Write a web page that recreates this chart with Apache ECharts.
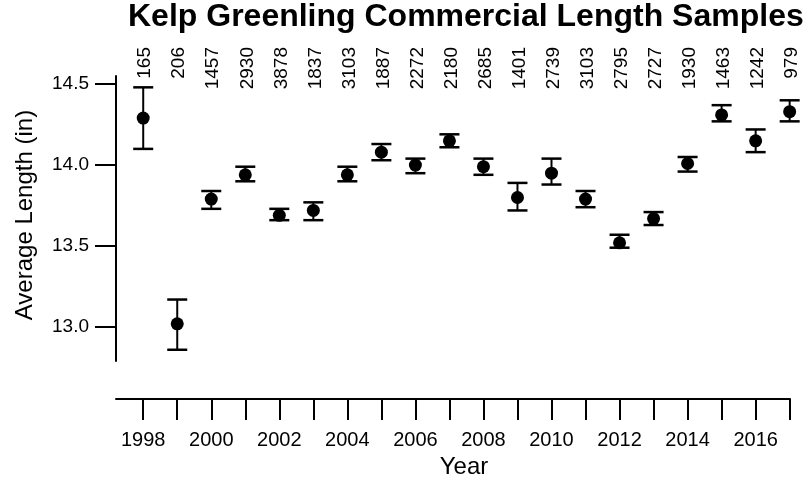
<!DOCTYPE html>
<html>
<head>
<meta charset="utf-8">
<script src="https://cdn.jsdelivr.net/npm/echarts@6/dist/echarts.min.js"></script>
<style>
  html, body { margin: 0; padding: 0; background: #ffffff; }
  #chart { width: 807px; height: 484px; }
</style>
</head>
<body>
<div id="chart"></div>
<script>
// ---- data ----
var years  = [1998, 1999, 2000, 2001, 2002, 2003, 2004, 2005, 2006, 2007,
              2008, 2009, 2010, 2011, 2012, 2013, 2014, 2015, 2016, 2017];
var counts = [165, 206, 1457, 2930, 3878, 1837, 3103, 1887, 2272, 2180,
              2685, 1401, 2739, 3103, 2795, 2727, 1930, 1463, 1242, 979];
var means  = [14.29, 13.02, 13.79, 13.94, 13.69, 13.72, 13.94, 14.08, 14.00, 14.15,
              13.99, 13.80, 13.95, 13.79, 13.52, 13.67, 14.01, 14.31, 14.15, 14.33];
var upper  = [14.48, 13.17, 13.84, 13.99, 13.73, 13.77, 13.99, 14.13, 14.04, 14.19,
              14.04, 13.89, 14.04, 13.84, 13.57, 13.71, 14.05, 14.37, 14.22, 14.40];
var lower  = [14.10, 12.86, 13.73, 13.90, 13.66, 13.66, 13.90, 14.03, 13.95, 14.11,
              13.94, 13.72, 13.88, 13.74, 13.49, 13.63, 13.96, 14.27, 14.08, 14.27];
var yTicks = [13.0, 13.5, 14.0, 14.5];
var xLabelYears = [1998, 2000, 2002, 2004, 2006, 2008, 2010, 2012, 2014, 2016];

var FONT = '"Liberation Sans", Arial, Helvetica, sans-serif';
var Y_MIN = 12.79, Y_MAX = 14.55;

var chart = echarts.init(document.getElementById('chart'), null, { renderer: 'canvas' });

var pointData = years.map(function (y, i) { return [y, means[i]]; });
var barData = years.map(function (y, i) { return [y, lower[i], upper[i]]; });
var countData = years.map(function (y, i) { return [y, counts[i]]; });

var option = {
  backgroundColor: '#ffffff',
  animation: false,
  title: {
    text: 'Kelp Greenling Commercial Length Samples',
    left: 128,
    top: 1,
    padding: 0,
    textStyle: { fontFamily: FONT, fontSize: 32, fontWeight: 'bold', color: '#000' }
  },
  grid: { left: 116, right: 17, top: 76, bottom: 115, containLabel: false },
  xAxis: {
    type: 'value',
    position: 'bottom',
    min: 1997.2,
    max: 2017.01,
    offset: 38,
    splitLine: { show: false },
    axisLine: { show: true, onZero: false, lineStyle: { color: '#000', width: 2 } },
    axisTick: { show: true, inside: false, length: 21, customValues: years,
                lineStyle: { color: '#000', width: 2 } },
    axisLabel: { show: true, customValues: xLabelYears, margin: 31,
                 fontFamily: FONT, fontSize: 20, color: '#000',
                 formatter: function (v) { return String(Math.round(v)); } },
    name: 'Year',
    nameLocation: 'middle',
    nameGap: 47,
    nameTextStyle: { fontFamily: FONT, fontSize: 24, color: '#000', padding: [0, 0, 0, 22] }
  },
  yAxis: {
    type: 'value',
    min: Y_MIN,
    max: Y_MAX,
    splitLine: { show: false },
    axisLine: { show: true, onZero: false, lineStyle: { color: '#000', width: 2 } },
    axisTick: { show: true, inside: false, length: 21, customValues: yTicks,
                lineStyle: { color: '#000', width: 2 } },
    axisLabel: { show: true, customValues: yTicks, margin: 27,
                 fontFamily: FONT, fontSize: 19, color: '#000',
                 formatter: function (v) { return v.toFixed(1); } },
    name: 'Average Length (in)',
    nameLocation: 'middle',
    nameGap: 79,
    nameRotate: 90,
    nameTextStyle: { fontFamily: FONT, fontSize: 24, color: '#000', padding: [0, 0, 0, 7] }
  },
  series: [
    {
      type: 'custom',
      data: barData,
      renderItem: function (params, api) {
        var x = api.value(0);
        var lo = api.coord([x, api.value(1)]);
        var hi = api.coord([x, api.value(2)]);
        var hw = 10;
        return {
          type: 'group',
          children: [
            { type: 'line', shape: { x1: lo[0], y1: lo[1], x2: hi[0], y2: hi[1] }, style: { stroke: '#000', lineWidth: 2 } },
            { type: 'line', shape: { x1: hi[0] - hw, y1: hi[1], x2: hi[0] + hw, y2: hi[1] }, style: { stroke: '#000', lineWidth: 2.5 } },
            { type: 'line', shape: { x1: lo[0] - hw, y1: lo[1], x2: lo[0] + hw, y2: lo[1] }, style: { stroke: '#000', lineWidth: 2.5 } }
          ]
        };
      },
      z: 2
    },
    {
      type: 'scatter',
      data: pointData,
      symbol: 'circle',
      symbolSize: 13,
      itemStyle: { color: '#000', opacity: 1 },
      z: 3
    },
    {
      type: 'custom',
      data: countData,
      clip: false,
      renderItem: function (params, api) {
        var p = api.coord([api.value(0), Y_MAX]);
        return {
          type: 'text',
          x: p[0] + 2,
          y: p[1] - 29,
          rotation: Math.PI / 2,
          style: {
            text: String(api.value(1)),
            align: 'right',
            verticalAlign: 'middle',
            fontFamily: FONT,
            fontSize: 19,
            fill: '#000'
          }
        };
      },
      z: 4
    }
  ]
};

chart.setOption(option);
</script>
</body>
</html>
